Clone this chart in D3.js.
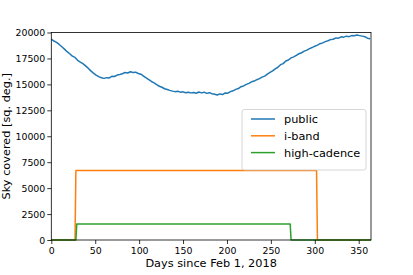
<!DOCTYPE html>
<html>
<head>
<meta charset="utf-8">
<script src="https://cdn.jsdelivr.net/npm/d3@7"></script>
<style>
  html, body { margin: 0; padding: 0; background: #fff; }
  svg { display: block; font-family: "DejaVu Sans", sans-serif; }
</style>
</head>
<body>
<svg id="chart" width="413" height="275"></svg>
<script>
// ---- data ----
const publicStepDays = 3;
const publicValues = [
  19350, 19180, 19050, 18850, 18620, 18400, 18150, 17950, 17720, 17600,
  17320, 17150, 17000, 16780, 16560, 16300, 16080, 15900, 15750, 15640,
  15580, 15650, 15620, 15780, 15760, 15900, 15950, 16020, 16150, 16100,
  16220, 16150, 16180, 16050, 15980, 15800, 15620, 15450, 15280, 15150,
  14980, 14820, 14720, 14580, 14500, 14420, 14350, 14300, 14330, 14250,
  14280, 14200, 14250, 14180, 14220, 14150, 14260, 14180, 14250, 14130,
  14200, 14100, 14050, 13980, 14080, 14020, 14180, 14150, 14300, 14380,
  14520, 14600, 14780, 14850, 15000, 15100, 15250, 15320, 15450, 15550,
  15700, 15800, 15980, 16150, 16300, 16500, 16650, 16900, 17000, 17250,
  17350, 17550, 17650, 17800, 17950, 18050, 18200, 18300, 18450, 18550,
  18680, 18780, 18920, 19000, 19120, 19200, 19320, 19350, 19480, 19450,
  19580, 19550, 19650, 19600, 19700, 19680, 19750, 19700, 19650, 19600,
  19450, 19400
];
const ibandDays = [0, 27, 28, 302, 303, 364];
const ibandValues = [0, 0, 6700, 6700, 0, 0];
const cadenceDays = [0, 28, 29, 272, 273, 364];
const cadenceValues = [0, 0, 1550, 1550, 0, 0];
const xTicks = [0, 50, 100, 150, 200, 250, 300, 350];
const yTicks = [0, 2500, 5000, 7500, 10000, 12500, 15000, 17500, 20000];
const seriesNames = ["public", "i-band", "high-cadence"];
const seriesColors = ["#1f77b4", "#ff7f0e", "#2ca02c"];

// ---- layout ----
const L = 51.3, R = 371, T = 32.5, B = 240;
const svg = d3.select("#chart");
const x = d3.scaleLinear().domain([0, 364]).range([L, R]);
const y = d3.scaleLinear().domain([0, 20000]).range([B, T]);

const publicData = publicValues.map((v, i) => [i * publicStepDays, v]);
const ibandData = ibandDays.map((d, i) => [d, ibandValues[i]]);
const cadenceData = cadenceDays.map((d, i) => [d, cadenceValues[i]]);
const allSeries = [publicData, ibandData, cadenceData];

const line = d3.line().x(d => x(d[0])).y(d => y(d[1]));

const plot = svg.append("g");
allSeries.forEach((s, i) => {
  plot.append("path")
    .datum(s)
    .attr("d", line)
    .attr("fill", "none")
    .attr("stroke", seriesColors[i])
    .attr("stroke-width", 1.5)
    .attr("stroke-linejoin", "round");
});

// axes
const fmt = d3.format("d");
const xAxis = d3.axisBottom(x).tickValues(xTicks).tickFormat(fmt).tickSize(4).tickPadding(3);
const gx = svg.append("g").attr("transform", `translate(0,${B})`).call(xAxis);
const yAxis = d3.axisLeft(y).tickValues(yTicks).tickFormat(fmt).tickSize(4).tickPadding(2);
const gy = svg.append("g").attr("transform", `translate(${L},0)`).call(yAxis);
[gx, gy].forEach(g => {
  g.select(".domain").remove();
  g.selectAll(".tick line").attr("stroke", "#000").attr("stroke-width", 0.8);
  g.selectAll(".tick text").attr("fill", "#000")
    .style("font-family", "DejaVu Sans, sans-serif").style("font-size", "9.4px");
});

// spines
svg.append("rect")
  .attr("x", L).attr("y", T).attr("width", R - L).attr("height", B - T)
  .attr("fill", "none").attr("stroke", "#000").attr("stroke-width", 0.8);

// axis labels
svg.append("text")
  .attr("x", (L + R) / 2).attr("y", 267)
  .attr("text-anchor", "middle")
  .style("font-size", "11.3px")
  .text("Days since Feb 1, 2018");
svg.append("text")
  .attr("transform", `translate(10,${(T + B) / 2}) rotate(-90)`)
  .attr("text-anchor", "middle")
  .style("font-size", "11.3px")
  .text("Sky covered [sq. deg.]");

// legend
const lg = svg.append("g");
lg.append("rect")
  .attr("x", 242).attr("y", 109.5).attr("width", 124).attr("height", 60.5)
  .attr("rx", 2.5).attr("ry", 2.5)
  .attr("fill", "#fff").attr("fill-opacity", 0.8)
  .attr("stroke", "#cccccc").attr("stroke-width", 0.8);
seriesNames.forEach((name, i) => {
  const yy = 119 + i * 16.8;
  lg.append("line")
    .attr("x1", 251).attr("x2", 275).attr("y1", yy).attr("y2", yy)
    .attr("stroke", seriesColors[i]).attr("stroke-width", 1.5);
  lg.append("text")
    .attr("x", 284).attr("y", yy).attr("dy", "0.35em")
    .style("font-size", "11.3px")
    .text(name);
});
</script>
</body>
</html>
